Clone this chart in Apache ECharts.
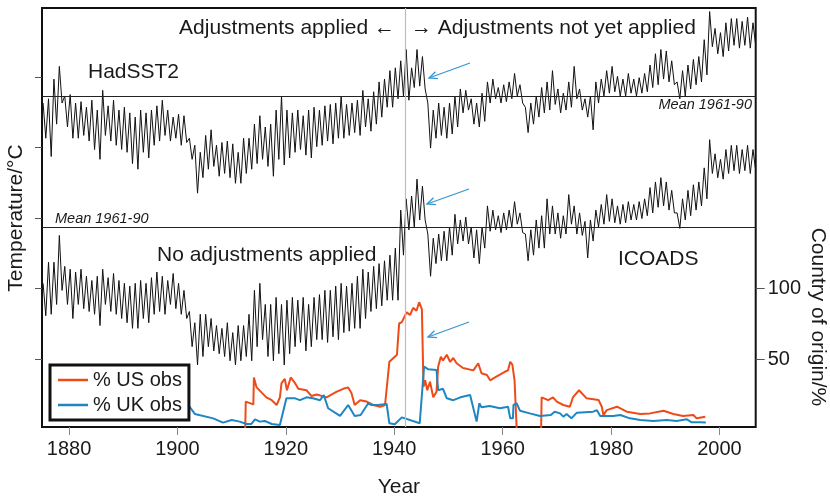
<!DOCTYPE html>
<html>
<head>
<meta charset="utf-8">
<title>HadSST2 / ICOADS</title>
<script src="https://cdn.jsdelivr.net/npm/echarts@6.0.0/dist/echarts.min.js"></script>
<style>
  html, body { margin: 0; padding: 0; background: #fff; }
  #chart { width: 830px; height: 496px; }
</style>
</head>
<body>
<div id="chart"></div>
<script>
'use strict';

var FONT = '"Liberation Sans", Arial, Helvetica, sans-serif';
var firstYear = 1875;

// HadSST2 anomalies (degC), upper / lower value read for each year 1875..2006
var hadHi = [
  -0.05, -0.02, 0.12, 0.21, 0.00, 0.01, -0.05, -0.04, -0.08, -0.03,
  -0.10, 0.04, -0.07, -0.03, -0.10, -0.08, -0.12, -0.15, -0.10, -0.12,
  -0.10, -0.07, -0.03, -0.10, -0.15, -0.13, -0.14, -0.30, -0.35, -0.40,
  -0.28, -0.24, -0.35, -0.33, -0.32, -0.34, -0.40, -0.30, -0.30, -0.20,
  -0.14, -0.22, -0.20, -0.10, 0.00, -0.10, -0.12, -0.10, -0.14, -0.10,
  -0.08, -0.10, -0.07, -0.06, -0.05, 0.00, -0.06, -0.05, -0.03, 0.04,
  -0.02, 0.03, 0.10, 0.12, 0.18, 0.20, 0.25, 0.33, 0.20, 0.33,
  0.28, -0.05, -0.10, -0.05, -0.08, -0.05, 0.00, 0.05, 0.04, -0.02,
  -0.05, 0.02, 0.10, 0.12, 0.06, 0.08, 0.10, 0.16, 0.08, -0.08,
  -0.05, 0.00, 0.06, 0.10, 0.18, 0.05, 0.02, 0.10, 0.21, 0.05,
  -0.02, 0.00, 0.10, 0.12, 0.18, 0.21, 0.14, 0.12, 0.16, 0.12,
  0.13, 0.16, 0.22, 0.30, 0.33, 0.32, 0.25, 0.10, 0.18, 0.22,
  0.26, 0.28, 0.40, 0.60, 0.48, 0.45, 0.52, 0.55, 0.55, 0.53,
  0.56, 0.52
];
var hadLo = [
  -0.30, -0.43, -0.20, -0.05, -0.22, -0.30, -0.30, -0.28, -0.32, -0.38,
  -0.45, -0.28, -0.32, -0.35, -0.38, -0.40, -0.48, -0.52, -0.40, -0.44,
  -0.35, -0.32, -0.28, -0.32, -0.30, -0.35, -0.33, -0.45, -0.69, -0.58,
  -0.52, -0.50, -0.57, -0.55, -0.58, -0.62, -0.62, -0.55, -0.52, -0.48,
  -0.45, -0.50, -0.57, -0.45, -0.49, -0.44, -0.40, -0.38, -0.42, -0.44,
  -0.36, -0.35, -0.32, -0.34, -0.30, -0.30, -0.28, -0.26, -0.28, -0.22,
  -0.25, -0.20, -0.15, -0.08, -0.08, -0.02, 0.00, -0.03, 0.06, 0.07,
  0.05, -0.37, -0.30, -0.28, -0.30, -0.27, -0.22, -0.12, -0.10, -0.20,
  -0.22, -0.18, -0.05, -0.02, -0.05, -0.04, -0.02, 0.00, -0.05, -0.26,
  -0.20, -0.15, -0.12, -0.10, -0.06, -0.12, -0.10, -0.08, -0.02, -0.10,
  -0.15, -0.24, -0.05, 0.00, 0.02, 0.03, 0.00, 0.00, 0.02, 0.00,
  0.02, 0.03, 0.06, 0.08, 0.12, 0.10, 0.08, -0.02, 0.00, 0.05,
  0.08, 0.10, 0.15, 0.35, 0.30, 0.28, 0.32, 0.36, 0.34, 0.36,
  0.34, 0.36
];

// ICOADS, no adjustments (degC), same layout
var icoHi = [
  -0.40, -0.25, -0.25, -0.06, -0.28, -0.30, -0.32, -0.30, -0.35, -0.38,
  -0.35, -0.30, -0.36, -0.33, -0.38, -0.40, -0.42, -0.40, -0.38, -0.40,
  -0.36, -0.32, -0.35, -0.38, -0.33, -0.40, -0.45, -0.60, -0.68, -0.62,
  -0.62, -0.65, -0.70, -0.72, -0.68, -0.75, -0.70, -0.70, -0.62, -0.45,
  -0.40, -0.55, -0.55, -0.50, -0.55, -0.52, -0.50, -0.52, -0.50, -0.55,
  -0.50, -0.48, -0.45, -0.45, -0.42, -0.40, -0.42, -0.40, -0.35, -0.30,
  -0.32, -0.28, -0.26, -0.24, -0.20, -0.15, 0.12, 0.20, 0.22, 0.34,
  0.29, -0.05, -0.08, -0.05, -0.03, 0.00, 0.09, 0.05, 0.07, 0.00,
  -0.02, 0.00, 0.15, 0.12, 0.08, 0.10, 0.12, 0.18, 0.10, -0.05,
  -0.02, 0.05, 0.08, 0.20, 0.15, 0.10, 0.08, 0.23, 0.15, 0.10,
  0.04, 0.05, 0.12, 0.16, 0.23, 0.20, 0.15, 0.16, 0.18, 0.16,
  0.18, 0.20, 0.28, 0.32, 0.35, 0.32, 0.26, 0.10, 0.20, 0.26,
  0.30, 0.32, 0.42, 0.62, 0.52, 0.48, 0.55, 0.58, 0.58, 0.55,
  0.58, 0.55
];
var icoLo = [
  -0.63, -0.62, -0.55, -0.45, -0.55, -0.65, -0.55, -0.58, -0.60, -0.62,
  -0.70, -0.55, -0.60, -0.62, -0.65, -0.68, -0.72, -0.72, -0.65, -0.68,
  -0.62, -0.60, -0.62, -0.55, -0.58, -0.62, -0.65, -0.85, -0.98, -0.92,
  -0.85, -0.88, -0.90, -0.92, -0.95, -0.98, -0.95, -0.92, -0.95, -0.85,
  -0.80, -0.92, -0.95, -0.90, -0.98, -0.90, -0.85, -0.82, -0.88, -0.85,
  -0.80, -0.80, -0.82, -0.78, -0.80, -0.75, -0.74, -0.72, -0.72, -0.65,
  -0.60, -0.58, -0.56, -0.52, -0.52, -0.52, -0.20, -0.02, 0.00, 0.05,
  0.05, -0.35, -0.26, -0.24, -0.24, -0.20, -0.12, -0.10, -0.12, -0.22,
  -0.26, -0.15, -0.03, -0.02, -0.04, -0.02, 0.00, 0.02, -0.04, -0.24,
  -0.20, -0.15, -0.15, -0.05, -0.05, -0.08, -0.05, 0.02, -0.05, -0.06,
  -0.22, -0.10, 0.00, 0.02, 0.04, 0.03, 0.02, 0.03, 0.05, 0.05,
  0.06, 0.08, 0.10, 0.14, 0.15, 0.12, 0.10, -0.01, 0.05, 0.08,
  0.12, 0.15, 0.20, 0.38, 0.35, 0.34, 0.38, 0.40, 0.38, 0.40,
  0.38, 0.40
];

// share of observations by country of origin (%), [year, percent]
var usObs = [
  [1912.5, 0], [1912.6, 20], [1914.0, 18], [1914.1, 37], [1914.6, 30], [1916.4, 23],
  [1917.4, 21], [1918.3, 17.6], [1918.9, 23], [1919.2, 33], [1919.8, 36], [1920.2, 28],
  [1920.9, 37], [1921.7, 33], [1922.3, 29], [1923.8, 28], [1924.7, 24], [1925.7, 25],
  [1927.5, 23], [1929.4, 27], [1930.6, 29], [1931.5, 30], [1932.1, 26], [1932.7, 17.6],
  [1933.7, 21], [1934.9, 20], [1936.1, 17.6], [1937.4, 16.4], [1938.3, 17.6], [1938.6, 18],
  [1939.1, 48], [1939.8, 50.5], [1940.5, 53], [1940.9, 75], [1941.4, 76], [1942.3, 83],
  [1942.9, 81], [1943.5, 86], [1944.1, 84], [1944.6, 90], [1945.1, 85], [1945.4, 30.5],
  [1945.7, 35], [1946.1, 28], [1946.6, 34], [1947.2, 23], [1947.8, 27], [1948.1, 44.6],
  [1948.6, 51.6], [1949.0, 49], [1949.7, 53], [1950.3, 48], [1950.9, 50.7], [1951.5, 47],
  [1952.7, 43.7], [1954.6, 42], [1955.5, 47], [1956.1, 40], [1957.1, 38.7], [1957.7, 35],
  [1958.6, 37], [1959.5, 39], [1960.4, 41], [1961.0, 42], [1961.4, 48], [1961.8, 46],
  [1962.2, 35], [1962.6, 0], [1967.1, 0], [1967.2, 23], [1967.5, 23], [1968.4, 21],
  [1969.3, 23], [1970.0, 20], [1971.2, 17.6], [1972.4, 16.4], [1973.0, 23.2], [1974.1, 28],
  [1975.5, 22.3], [1977.7, 21.1], [1978.3, 16.4], [1978.6, 10.5], [1979.2, 14], [1981.1, 16.4],
  [1982.9, 12.9], [1985.4, 11.3], [1987.2, 11.7], [1989.7, 13.6], [1991.5, 11.3], [1993.3, 9.9],
  [1995.2, 10.6], [1995.8, 8.2], [1997.4, 9.4]
];
var ukObs = [
  [1900.0, 19], [1902.0, 17.6], [1903.2, 11.3], [1906.6, 8.2], [1908.4, 5.2], [1910.0, 7],
  [1911.5, 5.9], [1912.7, 4.2], [1913.6, 4.2], [1914.3, 7.5], [1915.2, 5.9], [1916.1, 6.4],
  [1917.4, 4.2], [1918.9, 3.5], [1919.2, 4.7], [1920.1, 22.3], [1921.7, 22.3], [1922.6, 21],
  [1923.8, 23], [1925.0, 22.3], [1926.3, 21], [1927.0, 24.6], [1927.8, 15.3], [1930.0, 9.9],
  [1931.5, 17.6], [1932.7, 9.9], [1933.8, 10.6], [1935.2, 18.8], [1935.8, 17.6], [1937.0, 17.6],
  [1938.6, 18.3], [1939.1, 4.7], [1940.1, 4], [1941.4, 8.9], [1944.7, 4.7], [1945.5, 44.6],
  [1946.3, 42.7], [1947.8, 42.3], [1948.1, 28], [1949.0, 29], [1949.7, 22.3], [1950.9, 21],
  [1952.2, 23], [1954.0, 24.6], [1954.3, 23.5], [1955.2, 5.9], [1955.7, 18.8], [1956.1, 16],
  [1957.6, 16.9], [1959.5, 15.3], [1961.0, 16.4], [1961.4, 8.2], [1961.9, 8.2], [1962.0, 17.6],
  [1962.6, 18.8], [1963.2, 13.6], [1965.0, 11.7], [1966.9, 9.9], [1968.9, 10.6], [1969.6, 12.9],
  [1970.6, 11.7], [1971.2, 9.4], [1971.8, 11.3], [1972.7, 8.2], [1973.7, 12.2], [1976.7, 12.9],
  [1977.4, 14], [1978.0, 9.9], [1980.4, 9.9], [1981.7, 10.6], [1983.5, 8.2], [1985.4, 7],
  [1987.8, 6.3], [1990.3, 7], [1992.1, 6.3], [1994.0, 7.5], [1994.9, 5.4], [1996.4, 5.4],
  [1997.5, 5.2]
];

var yearTicks = [1880, 1900, 1920, 1940, 1960, 1980, 2000];
var tempTicks = [0.133, -0.367, -0.867, -1.367, -1.867];
var pctTicks = [50, 100];
var splitYear = 1942;

function zigzag( hi, lo ) {
	var out = [];
	for ( var i = 0; i < hi.length; i++ ) {
		out.push( [ firstYear + i + 0.2, hi[ i ] ] );
		out.push( [ firstYear + i + 0.7, lo[ i ] ] );
	}
	return out;
}

// small open arrow, tip at (x2, y2)
function arrow( x1, y1, x2, y2 ) {
	var a = Math.atan2( y1 - y2, x1 - x2 );
	var len = 9, spread = 0.42;
	var style = { stroke: '#3596d2', lineWidth: 1.3, fill: null };
	return {
		type: 'group',
		children: [
			{ type: 'polyline', shape: { points: [ [ x1, y1 ], [ x2, y2 ] ] }, style: style },
			{ type: 'polyline', shape: { points: [
				[ x2 + len * Math.cos( a + spread ), y2 + len * Math.sin( a + spread ) ],
				[ x2, y2 ],
				[ x2 + len * Math.cos( a - spread ), y2 + len * Math.sin( a - spread ) ]
			] }, style: style }
		]
	};
}

function label( text, x, y, align, size, extra ) {
	var st = { text: text, fontSize: size, fontFamily: FONT, fill: '#1a1a1a', align: align, verticalAlign: 'middle' };
	for ( var k in ( extra || {} ) ) st[ k ] = extra[ k ];
	return { type: 'text', x: x, y: y, style: st, z: 10 };
}

var chart = echarts.init( document.getElementById( 'chart' ) );

var option = {
	animation: false,
	backgroundColor: '#fff',
	textStyle: { fontFamily: FONT },
	grid: {
		left: 42, top: 8, right: 74.3, bottom: 69,
		outerBoundsMode: 'none', containLabel: false,
		show: true, borderColor: '#111', borderWidth: 2, backgroundColor: 'transparent'
	},
	legend: {
		data: [ '% US obs', '% UK obs' ],
		orient: 'vertical',
		left: 50, top: 365,
		padding: [ 4, 7, 4, 8 ],
		itemGap: 3,
		icon: 'rect',
		itemWidth: 30, itemHeight: 2.5,
		backgroundColor: '#fff',
		borderColor: '#111', borderWidth: 3,
		textStyle: { fontSize: 20, color: '#1a1a1a', lineHeight: 22 }
	},
	xAxis: {
		type: 'value', min: 1875, max: 2006.7,
		name: 'Year', nameLocation: 'middle', nameGap: 50,
		nameTextStyle: { fontSize: 21, color: '#1a1a1a' },
		axisLine: { show: false, onZero: false },
		splitLine: { show: false },
		axisTick: { customValues: yearTicks, length: 8, lineStyle: { color: '#888' } },
		axisLabel: {
			customValues: yearTicks, fontSize: 20, color: '#1a1a1a', margin: 12,
			formatter: function( v ) { return String( v ); }
		}
	},
	yAxis: [
		{
			type: 'value', min: -2.351, max: 0.625, position: 'left',
			axisLine: { show: false, onZero: false }, splitLine: { show: false },
			axisLabel: { show: false },
			axisTick: { show: true, customValues: tempTicks, length: 7, lineStyle: { color: '#555' } }
		},
		{ type: 'value', min: -1.4205, max: 1.5554, show: false },
		{
			type: 'value', min: 2.11, max: 297.18, position: 'right',
			axisLine: { show: false, onZero: false }, splitLine: { show: false },
			axisTick: { show: true, customValues: pctTicks, length: 9, lineStyle: { color: '#555' } },
			axisLabel: { customValues: pctTicks, fontSize: 20, color: '#1a1a1a', margin: 12 }
		}
	],
	series: [
		{
			name: 'HadSST2', type: 'line', yAxisIndex: 0,
			data: zigzag( hadHi, hadLo ),
			symbol: 'none', lineStyle: { color: '#111', width: 1 },
			markLine: {
				silent: true, symbol: 'none', label: { show: false },
				lineStyle: { color: '#222', width: 1, type: 'solid' },
				data: [
					{ yAxis: 0 },
					{ xAxis: splitYear, lineStyle: { color: '#bdbdbd', width: 1.2, type: 'solid' } }
				]
			}
		},
		{
			name: 'ICOADS', type: 'line', yAxisIndex: 1,
			data: zigzag( icoHi, icoLo ),
			symbol: 'none', lineStyle: { color: '#111', width: 1 },
			markLine: {
				silent: true, symbol: 'none', label: { show: false },
				lineStyle: { color: '#222', width: 1, type: 'solid' },
				data: [ { yAxis: 0 } ]
			}
		},
		{
			name: '% US obs', type: 'line', yAxisIndex: 2,
			data: usObs, symbol: 'none', color: '#ee4b19',
			lineStyle: { color: '#ee4b19', width: 2 }
		},
		{
			name: '% UK obs', type: 'line', yAxisIndex: 2,
			data: ukObs, symbol: 'none', color: '#1f86c2',
			lineStyle: { color: '#1f86c2', width: 2 }
		}
	],
	graphic: [
		label( 'Adjustments applied \u2190', 395, 28, 'right', 21 ),
		label( '\u2192 Adjustments not yet applied', 411, 28, 'left', 21 ),
		label( 'HadSST2', 88, 72, 'left', 21 ),
		label( 'No adjustments applied', 157, 255, 'left', 21 ),
		label( 'ICOADS', 618, 259, 'left', 21 ),
		label( 'Mean 1961-90', 752, 105, 'right', 14.5, { fontStyle: 'italic' } ),
		label( 'Mean 1961-90', 55, 219, 'left', 14.5, { fontStyle: 'italic' } ),
		{
			type: 'text', x: 16, y: 218, rotation: Math.PI / 2,
			style: { text: 'Temperature/\u00b0C', fontSize: 21, fontFamily: FONT, fill: '#1a1a1a', align: 'center', verticalAlign: 'middle' }
		},
		{
			type: 'text', x: 818, y: 317, rotation: -Math.PI / 2,
			style: { text: 'Country of origin/%', fontSize: 21, fontFamily: FONT, fill: '#1a1a1a', align: 'center', verticalAlign: 'middle' }
		},
		arrow( 470, 63, 429, 78 ),
		arrow( 469, 189, 427, 204 ),
		arrow( 469, 322, 428, 337 )
	]
};

chart.setOption( option );
</script>
</body>
</html>
